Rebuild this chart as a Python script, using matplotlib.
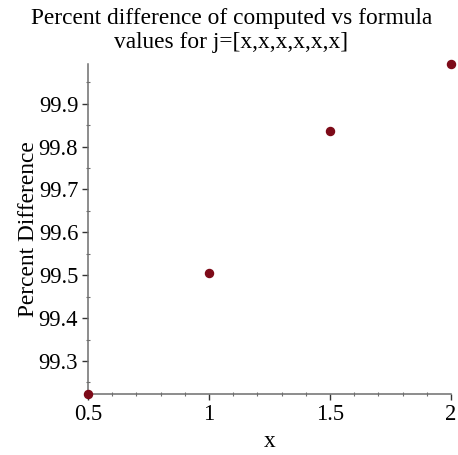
import numpy as np
import matplotlib
matplotlib.use("Agg")
import matplotlib.pyplot as plt
from matplotlib.ticker import MultipleLocator

# values
x_vals = [0.5, 1.0, 1.5, 2.0]
pct_diff = [99.222, 99.505, 99.836, 99.993]
x_ticks = [0.5, 1, 1.5, 2]
x_tick_labels = ["0.5", "1", "1.5", "2"]
y_ticks = [99.3, 99.4, 99.5, 99.6, 99.7, 99.8, 99.9]

plt.rcParams['font.family'] = ['Liberation Serif', 'DejaVu Serif']
axis_col = '#6e6e6e'

fig = plt.figure(figsize=(4.58, 4.55), dpi=100)
ax = fig.add_axes([0.192, 0.133, 0.793, 0.727])

ax.plot(x_vals, pct_diff, 'o', color='#7d0a18', markersize=5.8, clip_on=False, zorder=5)

ax.set_xlim(min(x_vals), max(x_vals))
ax.set_ylim(min(pct_diff), max(pct_diff))

ax.set_xticks(x_ticks)
ax.set_xticklabels(x_tick_labels)
ax.set_yticks(y_ticks)
ax.set_yticklabels([f"{v:.1f}" for v in y_ticks])
ax.xaxis.set_minor_locator(MultipleLocator(0.1))
ax.yaxis.set_minor_locator(MultipleLocator(0.05))

for s in ['top', 'right']:
    ax.spines[s].set_visible(False)
for s in ['left', 'bottom']:
    ax.spines[s].set_color(axis_col)
    ax.spines[s].set_linewidth(1.1)

ax.tick_params(which='major', direction='out', length=4, width=1, color='#333333',
               labelsize=16.3, pad=3)
ax.tick_params(which='minor', direction='inout', length=3, width=0.8, color=axis_col)

ax.set_xlabel("x", fontsize=16.8, labelpad=4)
ax.set_ylabel("Percent Difference", fontsize=16.8, labelpad=0)

fig.text(0.505, 0.982, "Percent difference of computed vs formula\nvalues for j=[x,x,x,x,x,x]",
         ha='center', va='top', fontsize=16.8, linespacing=1.2)

fig.savefig("out.png", dpi=100)
